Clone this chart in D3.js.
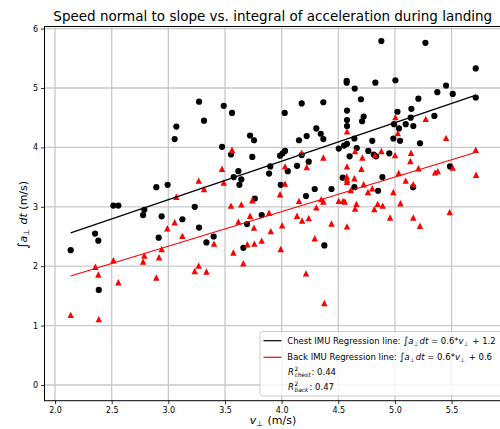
<!DOCTYPE html>
<html>
<head>
<meta charset="utf-8">
<script src="https://cdn.jsdelivr.net/npm/d3@7"></script>
<style>
  html, body { margin: 0; padding: 0; background: #fff; }
  svg { display: block; font-family: "DejaVu Sans", sans-serif; }
</style>
</head>
<body>
<svg id="chart" width="500" height="429"></svg>
<script>
// Landing measurements: normal speed (m/s) vs integrated normal acceleration (m/s)
const chestSpeed = [2.138, 2.353, 2.382, 2.386, 2.515, 2.559, 2.777, 2.788, 2.894, 2.915,
  2.941, 2.994, 3.056, 3.071, 3.124, 3.233, 3.271, 3.271, 3.315, 3.336,
  3.400, 3.474, 3.489, 3.553, 3.562, 3.577, 3.618, 3.627, 3.644, 3.662,
  3.695, 3.721, 3.741, 3.756, 3.763, 3.824, 3.889, 3.900, 3.986, 3.992,
  4.009, 4.027, 4.030, 4.054, 4.136, 4.153, 4.177, 4.177, 4.215, 4.221,
  4.239, 4.292, 4.306, 4.345, 4.368, 4.368, 4.377, 4.440, 4.504, 4.539,
  4.551, 4.574, 4.574, 4.577, 4.577, 4.577, 4.577, 4.600, 4.642, 4.642,
  4.645, 4.663, 4.700, 4.710, 4.724, 4.765, 4.800, 4.813, 4.827, 4.833,
  4.851, 4.880, 4.889, 4.950, 4.986, 4.992, 5.004, 5.022, 5.036, 5.045,
  5.095, 5.139, 5.145, 5.160, 5.162, 5.207, 5.221, 5.269, 5.348, 5.374,
  5.451, 5.486, 5.510, 5.713, 5.713];
const chestIntegral = [2.27, 2.55, 2.43, 1.60, 3.02, 3.02, 2.86, 2.95, 3.33, 2.48,
  2.84, 3.37, 4.14, 4.35, 2.79, 3.00, 4.77, 2.65, 4.45, 2.40,
  2.50, 4.01, 4.70, 3.88, 4.58, 3.50, 3.60, 3.37, 3.46, 2.31,
  2.71, 4.20, 3.84, 4.12, 3.14, 2.86, 3.56, 3.68, 3.86, 3.37,
  3.90, 4.58, 3.94, 3.60, 3.69, 4.12, 4.74, 3.87, 3.18, 4.19,
  3.76, 3.30, 4.32, 4.23, 4.76, 4.14, 2.35, 3.30, 3.98, 3.49,
  4.03, 5.12, 5.09, 4.62, 4.46, 4.36, 4.06, 3.85, 4.15, 3.33,
  4.99, 3.99, 4.81, 4.44, 4.52, 3.94, 4.11, 3.88, 5.09, 3.85,
  3.27, 5.79, 3.50, 3.90, 4.15, 4.39, 5.13, 4.60, 4.32, 4.11,
  4.39, 4.50, 4.65, 3.33, 4.36, 4.82, 4.07, 5.76, 4.53, 4.93,
  5.04, 3.68, 4.90, 5.33, 4.84];

const backSpeed = [2.138, 2.356, 2.382, 2.386, 2.515, 2.559, 2.777, 2.788, 2.894, 2.918,
  2.941, 2.991, 3.056, 3.071, 3.124, 3.233, 3.268, 3.268, 3.315, 3.336,
  3.403, 3.474, 3.489, 3.553, 3.562, 3.574, 3.618, 3.644, 3.662, 3.697,
  3.721, 3.741, 3.756, 3.759, 3.824, 3.889, 3.904, 3.986, 3.992, 4.004,
  4.030, 4.030, 4.136, 4.153, 4.177, 4.180, 4.215, 4.221, 4.239, 4.292,
  4.306, 4.350, 4.368, 4.368, 4.377, 4.440, 4.504, 4.542, 4.557, 4.574,
  4.577, 4.577, 4.577, 4.577, 4.577, 4.610, 4.642, 4.648, 4.648, 4.660,
  4.704, 4.712, 4.724, 4.762, 4.800, 4.818, 4.824, 4.848, 4.880, 4.892,
  4.957, 4.986, 5.001, 5.004, 5.025, 5.033, 5.048, 5.095, 5.136, 5.142,
  5.162, 5.162, 5.207, 5.221, 5.272, 5.354, 5.378, 5.451, 5.483, 5.510,
  5.713, 5.716];
const backIntegral = [1.18, 1.99, 1.86, 1.11, 2.10, 1.73, 2.08, 2.18, 1.81, 2.15,
  2.29, 2.64, 2.74, 3.17, 2.51, 1.92, 3.44, 2.01, 3.30, 1.91,
  2.38, 3.64, 3.41, 3.02, 3.96, 2.23, 2.75, 3.04, 2.05, 2.37,
  2.85, 3.11, 2.65, 2.38, 2.43, 2.90, 2.59, 3.21, 2.29, 2.69,
  3.68, 3.39, 2.85, 3.10, 3.91, 2.77, 1.88, 3.67, 2.81, 2.47,
  2.99, 3.13, 3.83, 3.09, 1.38, 2.72, 3.10, 3.10, 3.09, 3.51,
  4.27, 3.68, 3.46, 3.42, 2.67, 3.28, 3.48, 3.94, 2.97, 3.05,
  3.64, 3.83, 3.38, 3.25, 3.31, 2.96, 3.87, 3.05, 3.94, 3.02,
  2.82, 3.25, 3.87, 4.51, 4.24, 3.57, 3.06, 3.44, 3.77, 3.91,
  3.38, 2.82, 3.65, 2.68, 4.48, 3.58, 3.60, 4.16, 2.91, 3.66,
  3.96, 3.54];

// Least-squares fits and goodness of fit for each sensor
const chestFit = { slope: 0.648, intercept: 1.175, r2: 0.44 };
const backFit  = { slope: 0.582, intercept: 0.591, r2: 0.47 };

const xTicks = [2.0, 2.5, 3.0, 3.5, 4.0, 4.5, 5.0, 5.5];
const yTicks = [0, 1, 2, 3, 4, 5, 6];

const svg = d3.select("#chart");
const plot = { left: 44.5, right: 501, top: 26.5, bottom: 400.7 };

const x = d3.scaleLinear().domain([1.907, 5.936]).range([plot.left, plot.right]);
const y = d3.scaleLinear().domain([-0.264, 6.035]).range([plot.bottom, plot.top]);

const fmt1 = d3.format(".1f");

// grid
const grid = svg.append("g").attr("stroke", "#c9c9c9").attr("stroke-width", 1.3);
grid.selectAll("line.gx").data(xTicks).join("line")
  .attr("x1", d => x(d)).attr("x2", d => x(d))
  .attr("y1", plot.top).attr("y2", plot.bottom);
grid.selectAll("line.gy").data(yTicks).join("line")
  .attr("x1", plot.left).attr("x2", plot.right)
  .attr("y1", d => y(d)).attr("y2", d => y(d));

// axes
const xAxis = d3.axisBottom(x).tickValues(xTicks).tickFormat(fmt1).tickSize(3.5).tickPadding(3);
const yAxis = d3.axisLeft(y).tickValues(yTicks).tickFormat(d3.format("d")).tickSize(3.5).tickPadding(3);

const gx = svg.append("g").attr("transform", `translate(0,${plot.bottom})`).call(xAxis);
const gy = svg.append("g").attr("transform", `translate(${plot.left},0)`).call(yAxis);
[gx, gy].forEach(g => {
  g.select(".domain").remove();
  g.selectAll(".tick line").attr("stroke", "#000").attr("stroke-width", 0.8);
  g.selectAll(".tick text").attr("fill", "#000").style("font-size", "8px")
    .style("font-family", "DejaVu Sans, sans-serif");
});

// frame
svg.append("rect")
  .attr("x", plot.left).attr("y", plot.top)
  .attr("width", plot.right - plot.left).attr("height", plot.bottom - plot.top)
  .attr("fill", "none").attr("stroke", "#000").attr("stroke-width", 1);

// points
const chestPts = chestSpeed.map((v, i) => [v, chestIntegral[i]]);
const backPts = backSpeed.map((v, i) => [v, backIntegral[i]]);

svg.append("g").selectAll("circle").data(chestPts).join("circle")
  .attr("cx", d => x(d[0])).attr("cy", d => y(d[1])).attr("r", 3.1)
  .attr("fill", "#000");

const tri = "M0,-3.2L3.2,3.2L-3.2,3.2Z";
svg.append("g").selectAll("path").data(backPts).join("path")
  .attr("d", tri)
  .attr("transform", d => `translate(${x(d[0])},${y(d[1])})`)
  .attr("fill", "#ff0000");

// regression lines over the measured speed range
const vMin = d3.min(chestSpeed.concat(backSpeed));
const vMax = d3.max(chestSpeed.concat(backSpeed));
const line = d3.line().x(d => x(d[0])).y(d => y(d[1]));
function fitLine(fit) {
  return [vMin, vMax].map(v => [v, fit.slope * v + fit.intercept]);
}
svg.append("path").datum(fitLine(chestFit)).attr("d", line)
  .attr("stroke", "#000").attr("stroke-width", 1.2).attr("fill", "none");
svg.append("path").datum(fitLine(backFit)).attr("d", line)
  .attr("stroke", "#ff0000").attr("stroke-width", 1.2).attr("fill", "none");

// text helper: parts of [string, flags] where flags may contain i (italic), sub, sup, big
function addMath(text, parts, size) {
  parts.forEach(([s, f]) => {
    f = f || "";
    const t = text.append("tspan").text(s);
    if (f.includes("i")) t.style("font-style", "italic");
    if (f.includes("big")) t.style("font-size", (size * 1.15) + "px");
    if (f.includes("sub")) {
      t.style("font-size", (size * 0.7) + "px").attr("dy", size * 0.22);
      text.append("tspan").text("\u200A").attr("dy", -size * 0.22).style("font-size", size + "px");
    }
    if (f.includes("sup")) {
      t.style("font-size", (size * 0.7) + "px").attr("dy", -size * 0.38);
      text.append("tspan").text("\u200A").attr("dy", size * 0.38).style("font-size", size + "px");
    }
  });
}

// title
svg.append("text").attr("x", (plot.left + plot.right) / 2).attr("y", 20.7)
  .attr("text-anchor", "middle").style("font-size", "13.5px")
  .text("Speed normal to slope vs. integral of acceleration during landing");

// axis labels
const xl = svg.append("text").attr("x", 273).attr("y", 423.5).attr("text-anchor", "middle")
  .style("font-size", "11px");
addMath(xl, [["v", "i"], ["\u22A5", "sub"], [" (m/s)"]], 11);

const yl = svg.append("text").attr("transform", "translate(27,215) rotate(-90)")
  .attr("text-anchor", "middle").style("font-size", "11px");
addMath(yl, [["\u222B", "big"], ["a", "i"], ["\u22A5", "sub"], [" "], ["dt", "i"], [" (m/s)"]], 11);

// legend
const lg = svg.append("g");
lg.append("rect").attr("x", 260).attr("y", 331.5).attr("width", 250).attr("height", 64.5)
  .attr("rx", 2.5).attr("fill", "#fff").attr("fill-opacity", 0.8)
  .attr("stroke", "#cccccc").attr("stroke-width", 1);

const lfs = 8.5;
const rows = [
  { name: "Chest IMU", color: "#000", fit: chestFit, y: 340.7 },
  { name: "Back IMU", color: "#ff0000", fit: backFit, y: 357.3 }
];
rows.forEach(r => {
  lg.append("line").attr("x1", 263.5).attr("x2", 281.5).attr("y1", r.y).attr("y2", r.y)
    .attr("stroke", r.color).attr("stroke-width", 1.2);
  const t = lg.append("text").attr("x", 287.3).attr("y", r.y + 3).style("font-size", lfs + "px");
  addMath(t, [[r.name + " Regression line: "], ["\u222B", "big"], ["a", "i"], ["\u22A5", "sub"], ["dt", "i"],
    [" = " + fmt1(r.fit.slope) + "*"], ["v", "i"], ["\u22A5", "sub"], [" + " + fmt1(r.fit.intercept)]], lfs);
});

const r2Rows = [
  { sub: "chest", val: chestFit.r2, y: 371.7 },
  { sub: "back", val: backFit.r2, y: 386.7 }
];
r2Rows.forEach(r => {
  const x0 = 288;
  const R = lg.append("text").attr("x", x0).attr("y", r.y + 3).style("font-size", lfs + "px")
    .style("font-style", "italic").text("R");
  const wR = R.node().getComputedTextLength() + 0.5;
  lg.append("text").attr("x", x0 + wR).attr("y", r.y + 3 - lfs * 0.42)
    .style("font-size", (lfs * 0.7) + "px").text("2");
  const sb = lg.append("text").attr("x", x0 + wR).attr("y", r.y + 3 + lfs * 0.28)
    .style("font-size", (lfs * 0.7) + "px").style("font-style", "italic").text(r.sub);
  const wS = sb.node().getComputedTextLength();
  lg.append("text").attr("x", x0 + wR + wS + 1).attr("y", r.y + 3).style("font-size", lfs + "px")
    .text(": " + d3.format(".2f")(r.val));
});
</script>
</body>
</html>
